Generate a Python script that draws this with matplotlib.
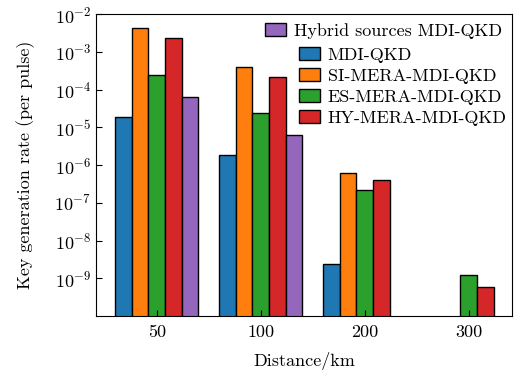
import matplotlib
matplotlib.use("Agg")
import matplotlib.pyplot as plt
import numpy as np

plt.rcParams["font.family"] = "serif"
plt.rcParams["font.serif"] = ["cmr10"]
plt.rcParams["mathtext.fontset"] = "cm"
plt.rcParams["axes.formatter.use_mathtext"] = True
plt.rcParams["axes.unicode_minus"] = False

# key rates per pulse at each distance (None = no key)
distances = ["50", "100", "200", "300"]
mdi = [1.9e-5, 1.8e-6, 2.4e-9, None]
si_mera = [4.3e-3, 4.0e-4, 6.1e-7, None]
es_mera = [2.4e-4, 2.35e-5, 2.2e-7, 1.2e-9]
hy_mera = [2.3e-3, 2.1e-4, 4.1e-7, 6.0e-10]
hybrid = [6.2e-5, 6.1e-6, None, None]

series = [
    ("MDI-QKD", mdi, "#1f77b4"),
    ("SI-MERA-MDI-QKD", si_mera, "#ff7f0e"),
    ("ES-MERA-MDI-QKD", es_mera, "#2ca02c"),
    ("HY-MERA-MDI-QKD", hy_mera, "#d62728"),
    ("Hybrid sources MDI-QKD", hybrid, "#9467bd"),
]

fig = plt.figure(figsize=(5.14, 3.71), dpi=100)
ax = fig.add_axes([0.187, 0.148, 0.809, 0.814])

x = np.arange(len(distances))
w = 0.16
bars = []
for i, (name, vals, col) in enumerate(series):
    xs = [x[j] + (i - 2) * w for j in range(len(vals)) if vals[j] is not None]
    ys = [v for v in vals if v is not None]
    b = ax.bar(xs, ys, w, color=col, edgecolor="black", linewidth=1.0, label=name)
    bars.append(b)

ax.set_yscale("log")
ax.set_ylim(1e-10, 1e-2)
ax.set_yticks([10.0 ** k for k in range(-9, -1)])
ax.minorticks_off()
ax.set_xlim(-0.583, 3.417)
ax.set_xticks(x)
ax.set_xticklabels(distances)
ax.tick_params(direction="in", length=4, labelsize=13)
ax.tick_params(axis="x", pad=6)

ax.set_xlabel("Distance/km", fontsize=13, labelpad=9)
ax.set_ylabel("Key generation rate (per pulse)", fontsize=13, labelpad=14)

# hybrid-source entry sits on its own line above the others
leg1 = ax.legend([bars[4]], [series[4][0]], loc="upper right", frameon=False,
                 fontsize=13, handlelength=1.2, handletextpad=0.4,
                 borderaxespad=0.1, bbox_to_anchor=(0.997, 1.0))
ax.add_artist(leg1)
ax.legend(bars[:4], [s[0] for s in series[:4]], loc="upper right", frameon=False,
          fontsize=13, handlelength=1.2, handletextpad=0.4, labelspacing=0.3,
          borderaxespad=0.1, bbox_to_anchor=(1.009, 0.92))

fig.savefig("out.png", dpi=100)
